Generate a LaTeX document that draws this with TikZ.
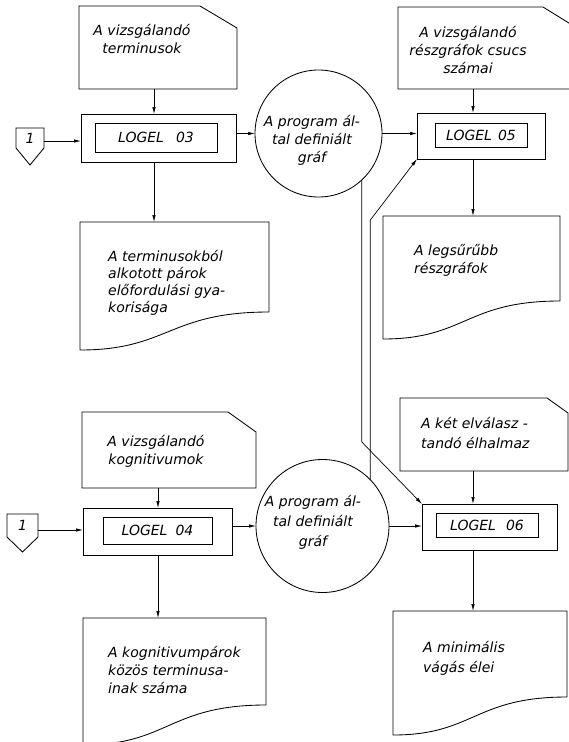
\documentclass[tikz,border=0pt]{standalone}
\usepackage{fontspec}
\setmainfont{DejaVu Sans}
\usetikzlibrary{arrows.meta,calc}
\newcommand{\cardpath}[3]{\draw[ln] (#1.south west) -- (#1.north west) -- ([xshift=-#2pt]#1.north east) -- ([yshift=-#3pt]#1.north east) -- (#1.south east) -- cycle;}
\newcommand{\docpath}[2]{\draw[ln] (#1.south west) -- (#1.north west) -- (#1.north east) -- ([yshift=-#2pt]#1.north east) .. controls ([xshift=-6pt,yshift=-#2pt]#1.north) and ([xshift=-6pt]#1.south) .. (#1.south west) -- cycle;}
\begin{document}
\begin{tikzpicture}[x=1pt,y=-1pt,
  ln/.style={line width=0.85pt},
  shp/.style={inner sep=0pt,outer sep=0pt},
  txt/.style={font=\fontsize{14}{18}\selectfont\itshape, align=center, inner sep=0pt},
  ltxt/.style={font=\fontsize{14}{#1}\selectfont\itshape, align=left, anchor=west, inner sep=0pt},
  arr/.style={line width=0.7pt,-{Latex[length=7pt,width=3.5pt]}},
  outerbox/.style={draw,line width=1pt,inner sep=0pt,outer sep=0pt},
  innerbox/.style={draw,line width=1pt,inner sep=0pt,font=\fontsize{14}{16}\selectfont\itshape},
  circ/.style={draw,circle,line width=0.85pt,inner sep=0pt,outer sep=0pt}
  ]
\useasboundingbox (0,0) rectangle (569,742);
\fill[white] (0,0) rectangle (569,742);

% ---------- top half ----------
\node[shp,minimum width=158pt,minimum height=83pt] (card1) at (158,47.5) {};
\cardpath{card1}{37}{22}
\node[txt] (t1) at (142,39) {A vizsgálandó\\terminusok};

\node[shp,minimum width=28pt,minimum height=20pt,font=\fontsize{14}{14}\selectfont\itshape] (p1) at (30,138) {1};
\draw[ln] (p1.north west) -- (p1.north east) -- (p1.south east) -- ([yshift=-17pt]p1.south) -- (p1.south west) -- cycle;

\node[outerbox,minimum width=155pt,minimum height=48pt] (l3) at (158.5,138) {};
\node[innerbox,minimum width=122pt,minimum height=29pt] (l3t) at (156,137.5) {LOGEL\hspace{12pt}03};

\node[shp,minimum width=189pt,minimum height=128pt] (doc1) at (174.5,286) {};
\docpath{doc1}{90}
\node[ltxt=17pt] (d1t) at (108,283) {A terminusokból\\alkotott párok\\előfordulási gya-\\korisága};

\node[circ,minimum size=127pt] (c1) at (318.5,133.5) {};
\node[txt] (c1t) at (312,140) {A program ál-\\tal definiált\\gráf};

\node[shp,minimum width=187pt,minimum height=82pt] (card2) at (491.5,48) {};
\cardpath{card2}{42}{26}
\node[txt] (t2) at (468,50) {A vizsgálandó\\részgráfok csucs\\számai};

\node[outerbox,minimum width=128pt,minimum height=46pt] (l5) at (481,136) {};
\node[innerbox,minimum width=92pt,minimum height=24pt] (l5t) at (481,135) {LOGEL\hspace{6pt}05};

\node[shp,minimum width=177pt,minimum height=123pt] (doc2) at (471.5,277.5) {};
\docpath{doc2}{85}
\node[ltxt=18pt] (d2t) at (414,260) {A legsűrűbb\\részgráfok};

% ---------- bottom half ----------
\node[shp,minimum width=174pt,minimum height=76pt] (card3) at (169,450) {};
\cardpath{card3}{28}{20}
\node[txt] (t3) at (156,451) {A vizsgálandó\\kognitivumok};

\node[shp,minimum width=31pt,minimum height=23pt,font=\fontsize{14}{14}\selectfont\itshape] (p2) at (22.5,525.5) {1};
\draw[ln] (p2.north west) -- (p2.north east) -- (p2.south east) -- ([yshift=-15pt]p2.south) -- (p2.south west) -- cycle;

\node[outerbox,minimum width=149pt,minimum height=47pt] (l4) at (157.5,531.5) {};
\node[innerbox,minimum width=109pt,minimum height=27pt] (l4t) at (157.5,530.5) {LOGEL\hspace{8pt}04};

\node[shp,minimum width=183pt,minimum height=127pt] (doc3) at (174.5,681.5) {};
\docpath{doc3}{87}
\node[ltxt=18pt] (d3t) at (108,670) {A kognitivumpárok\\közös terminusa-\\inak száma};

\node[circ,minimum size=133pt] (c2) at (322.5,526) {};
\node[txt,font=\fontsize{14}{20}\selectfont\itshape] (c2t) at (313,522) {A program ál-\\tal definiált\\gráf};

\node[shp,minimum width=168pt,minimum height=73pt] (card4) at (484,434.5) {};
\cardpath{card4}{21}{15}
\node[ltxt=20pt] (t4) at (421,433) {A két elválasz -\\tandó élhalmaz};

\node[outerbox,minimum width=135pt,minimum height=46pt] (l6) at (489.5,527) {};
\node[innerbox,minimum width=102pt,minimum height=24pt] (l6t) at (487,525) {LOGEL\hspace{10pt}06};

\node[shp,minimum width=174pt,minimum height=124pt] (doc4) at (480,673) {};
\docpath{doc4}{86}
\node[ltxt=20pt] (d4t) at (423,658) {A minimális\\vágás élei};

% ---------- connectors ----------
\coordinate (col1) at (154,0);
\coordinate (col2) at (158,0);
\coordinate (col3) at (473,0);
\coordinate (r1) at (0,141);
\coordinate (r2) at (0,530);
\coordinate (bA) at (0,442);
\coordinate (bB) at (0,220);

\draw[arr] (card1.south -| col1) -- (l3.north -| col1);
\draw[arr] (l3.south -| col1) -- (doc1.north -| col1);
\draw[arr] (p1.east |- r1) -- (l3.west |- r1);
\draw[arr] (l3.east |- c1.west) -- (c1.west);
\draw[arr] (c1.east) -- (c1.east -| l5.west);
\draw[arr] (card2.south -| col3) -- (l5.north -| col3);
\draw[arr] (l5.south -| col3) -- (doc2.north -| col3);
\draw[arr] (c1.-47) -- (c1.-47 |- bA) -- (l6.north west);
\draw[arr] (c2.44) -- (c2.44 |- bB) -- (l5.south west);

\draw[arr] (card3.south -| col2) -- (l4.north -| col2);
\draw[arr] (l4.south -| col2) -- (doc3.north -| col2);
\draw[arr] (p2.east |- r2) -- (l4.west |- r2);
\draw[arr] (l4.east |- c2.west) -- (c2.west);
\draw[arr] (c2.east) -- (c2.east -| l6.west);
\draw[arr] (card4.south -| col3) -- (l6.north -| col3);
\draw[arr] (l6.south -| col3) -- (doc4.north -| col3);
\end{tikzpicture}
\end{document}
